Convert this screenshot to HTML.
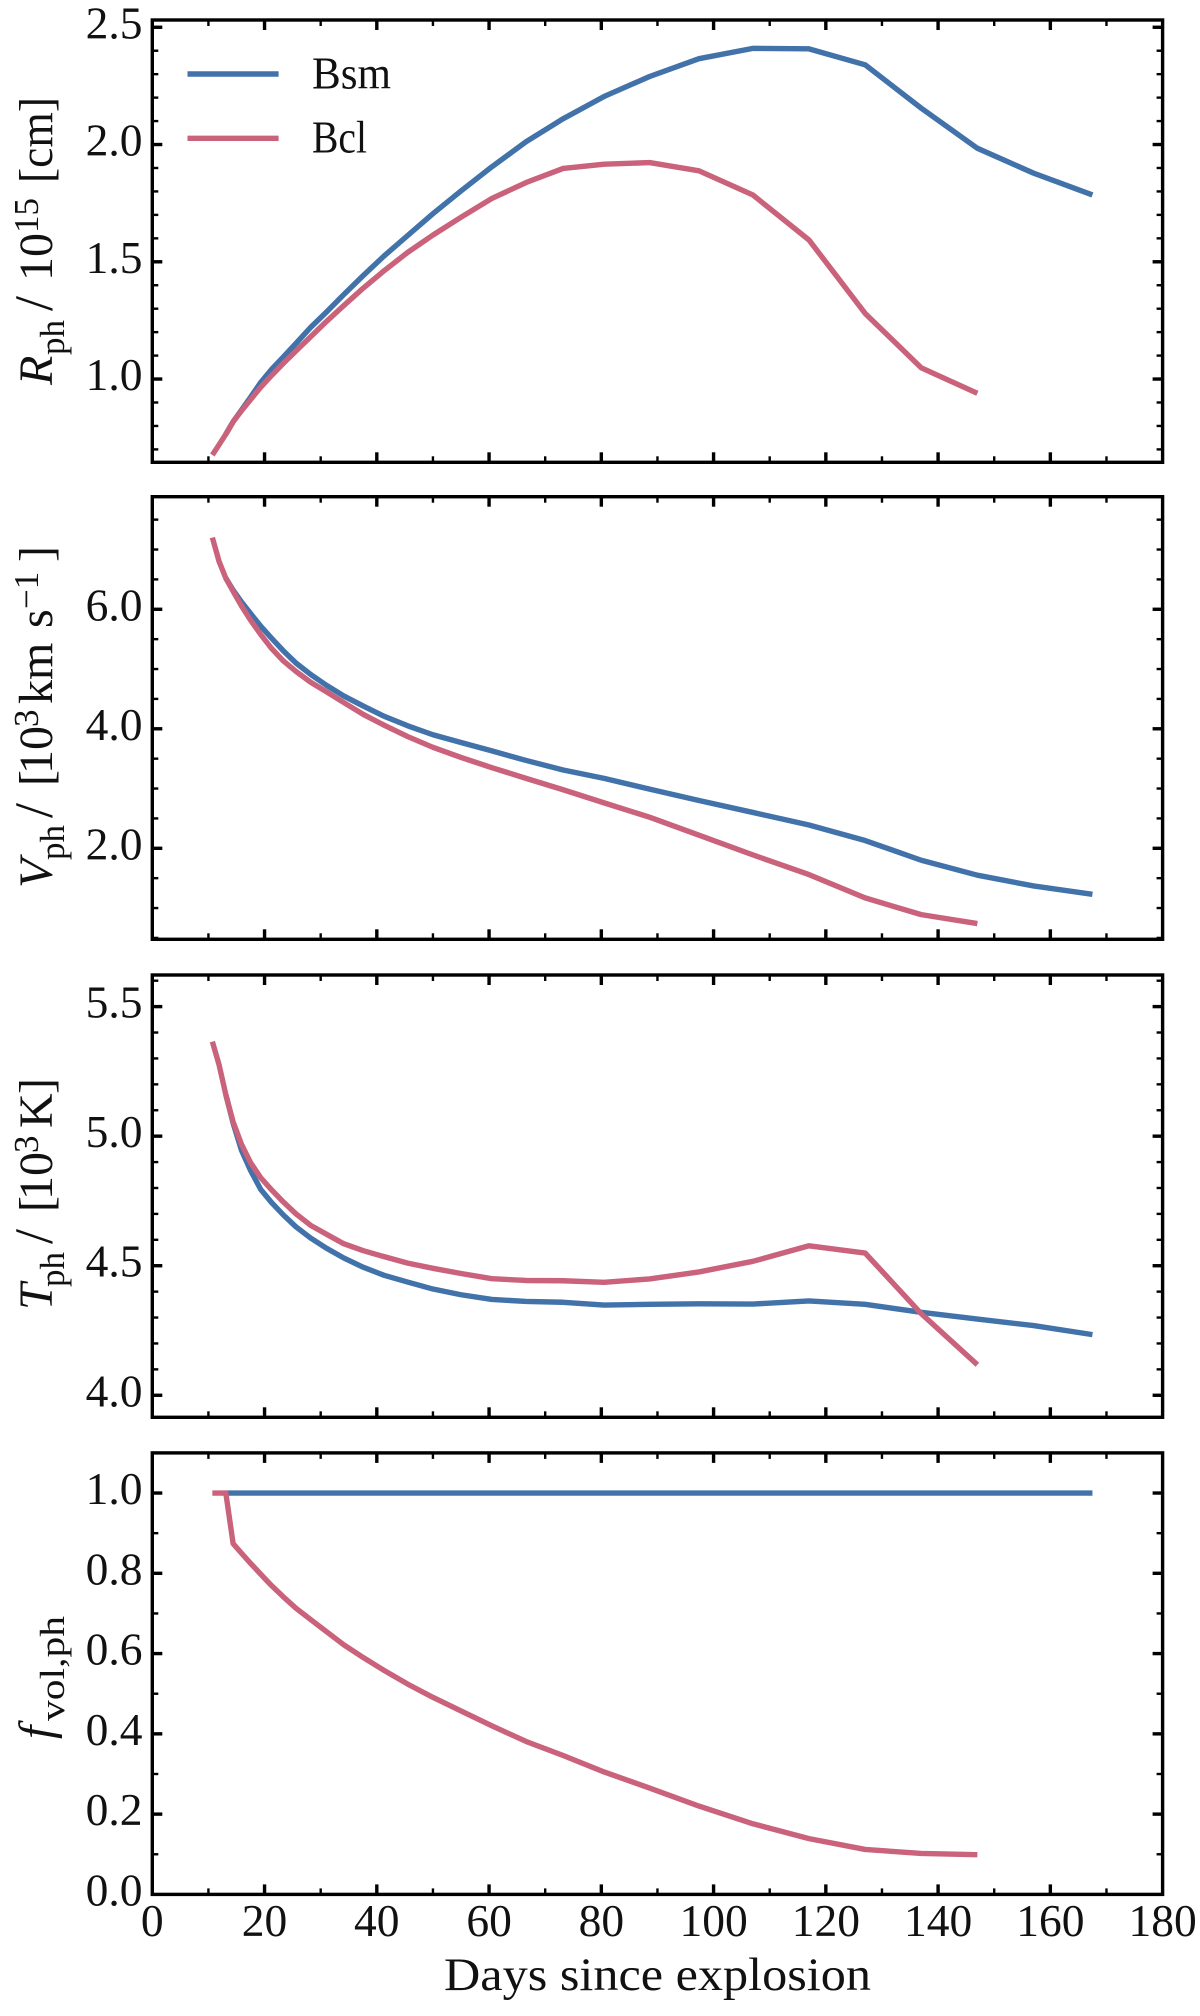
<!DOCTYPE html>
<html>
<head>
<meta charset="utf-8">
<title>Photospheric properties</title>
<style>
html,body{margin:0;padding:0;background:#fff;}
svg{display:block;}
text{font-family:"Liberation Serif",serif;fill:#111;}
</style>
</head>
<body>
<svg id="chart" xmlns="http://www.w3.org/2000/svg" width="1200" height="2016" viewBox="0 0 1200 2016">
  <rect x="0" y="0" width="1200" height="2016" fill="#fff"/>

  <g transform="translate(52,385) rotate(-90)">
    <text font-size="48"><tspan x="0" y="0" font-style="italic">R</tspan><tspan x="30" y="12" font-size="35">ph</tspan><tspan x="74" y="0" font-size="54">/</tspan><tspan x="104" y="0">10</tspan><tspan x="152" y="-14" font-size="35">15</tspan><tspan x="202" y="0" textLength="86" lengthAdjust="spacingAndGlyphs">[cm]</tspan></text>
  </g>
  <g transform="translate(52,888) rotate(-90)">
    <text font-size="48"><tspan x="0" y="0" font-style="italic">V</tspan><tspan x="28" y="12" font-size="35">ph</tspan><tspan x="70" y="0" font-size="54">/</tspan><tspan x="102" y="0">[</tspan><tspan x="114" y="0">10</tspan><tspan x="161" y="-14" font-size="35">3</tspan><tspan x="184" y="0">km</tspan><tspan x="260" y="0">s</tspan><tspan x="279" y="-14" font-size="35">−1</tspan><tspan x="326" y="0">]</tspan></text>
  </g>
  <g transform="translate(52,1310) rotate(-90)">
    <text font-size="48"><tspan x="0" y="0" font-style="italic">T</tspan><tspan x="23" y="12" font-size="35">ph</tspan><tspan x="66" y="0" font-size="54">/</tspan><tspan x="98" y="0">[</tspan><tspan x="110" y="0">10</tspan><tspan x="157" y="-14" font-size="35">3</tspan><tspan x="182" y="0">K</tspan><tspan x="216" y="0">]</tspan></text>
  </g>
  <g transform="translate(52,1739) rotate(-90)">
    <text font-size="48"><tspan x="0" y="0" font-style="italic">f</tspan><tspan x="18" y="12" font-size="35" textLength="105" lengthAdjust="spacingAndGlyphs">vol,ph</tspan></text>
  </g>

  <text x="444" y="1990" font-size="47" textLength="427" lengthAdjust="spacingAndGlyphs">Days since explosion</text>

  <g id="plots"></g>

  <g>
    <line x1="187.5" x2="278.6" y1="74" y2="74" stroke="#4172a9" stroke-width="5.4"/>
    <text x="312" y="88.5" font-size="45" textLength="79" lengthAdjust="spacingAndGlyphs">Bsm</text>
    <line x1="187.5" x2="278.6" y1="138.3" y2="138.3" stroke="#c9627a" stroke-width="5.4"/>
    <text x="312" y="152.7" font-size="45" textLength="55" lengthAdjust="spacingAndGlyphs">Bcl</text>
  </g>
</svg>

<script>
// ---- data ----
const bclDays = [10.7,11.9,13.1,14.4,15.9,17.5,19.3,21.2,23.3,25.6,28.2,31,34.1,37.6,41.3,45.5,50,55,60.5,66.6,73.2,80.5,88.6,97.4,107,117,127,137,147];
const bsmDays = [13.1,14.4,15.9,17.5,19.3,21.2,23.3,25.6,28.2,31,34.1,37.6,41.3,45.5,50,55,60.5,66.6,73.2,80.5,88.6,97.4,107,117,127,137,147,157,167.5];

const radiusBcl = [0.676,0.72,0.765,0.818,0.865,0.912,0.965,1.014,1.066,1.12,1.18,1.245,1.313,1.388,1.462,1.54,1.614,1.69,1.77,1.838,1.898,1.916,1.923,1.888,1.785,1.593,1.28,1.048,0.939];
const radiusBsm = [0.765,0.818,0.868,0.922,0.985,1.04,1.093,1.152,1.22,1.285,1.36,1.442,1.525,1.612,1.705,1.802,1.905,2.012,2.11,2.205,2.29,2.366,2.41,2.408,2.34,2.155,1.984,1.878,1.785];

const velocityBcl = [7.2,6.8,6.52,6.3,6.055,5.82,5.58,5.35,5.14,4.96,4.78,4.62,4.44,4.24,4.06,3.87,3.69,3.52,3.35,3.17,2.98,2.76,2.52,2.22,1.89,1.56,1.17,0.89,0.74];
const velocityBsm = [6.52,6.32,6.12,5.93,5.72,5.52,5.31,5.1,4.91,4.73,4.55,4.38,4.21,4.05,3.9,3.77,3.63,3.47,3.31,3.17,2.99,2.8,2.6,2.39,2.13,1.8,1.55,1.37,1.23];

const temperatureBcl = [5.365,5.275,5.16,5.055,4.968,4.898,4.84,4.794,4.747,4.7,4.656,4.622,4.585,4.558,4.535,4.51,4.49,4.47,4.45,4.443,4.442,4.436,4.449,4.476,4.517,4.577,4.549,4.315,4.118];
const temperatureBsm = [5.16,5.05,4.945,4.868,4.795,4.745,4.697,4.65,4.607,4.568,4.53,4.494,4.463,4.437,4.41,4.388,4.37,4.362,4.359,4.348,4.351,4.353,4.352,4.364,4.351,4.32,4.294,4.269,4.234];

const fillingBcl = [1,1,1,0.874,0.85,0.825,0.798,0.77,0.742,0.713,0.685,0.655,0.622,0.59,0.558,0.524,0.491,0.457,0.42,0.381,0.346,0.305,0.265,0.22,0.176,0.139,0.112,0.102,0.099];
const fillingBsm = [1,1,1,1,1,1,1,1,1,1,1,1,1,1,1,1,1,1,1,1,1,1,1,1,1,1,1,1,1];

const xTickLabels = ["0","20","40","60","80","100","120","140","160","180"];
const radiusTickLabels = ["1.0","1.5","2.0","2.5"];
const velocityTickLabels = ["2.0","4.0","6.0"];
const temperatureTickLabels = ["4.0","4.5","5.0","5.5"];
const fillingTickLabels = ["0.0","0.2","0.4","0.6","0.8","1.0"];

// ---- layout ----
const NS = 'http://www.w3.org/2000/svg';
const plots = document.getElementById('plots');
const BLUE = '#4172a9';
const RED = '#c9627a';
const LEFT = 152.3, RIGHT = 1162.6;
const xLo = 0, xHi = 180;
function xScale(v){ return LEFT + (v - xLo) / (xHi - xLo) * (RIGHT - LEFT); }
function makeYScale(lo, hi, bottom, top){
  return function(v){ return bottom - (v - lo) / (hi - lo) * (bottom - top); };
}
function svgEl(tag, attrs){
  const el = document.createElementNS(NS, tag);
  for (const k in attrs) el.setAttribute(k, attrs[k]);
  return el;
}
function tickLine(parent, x1, y1, x2, y2, major){
  const l = svgEl('line', {x1:x1, y1:y1, x2:x2, y2:y2, stroke:'#000', 'stroke-width': major ? 3.4 : 2.4});
  
  
  parent.appendChild(l);
}
function drawLine(parent, xs, ys, yScale, color, name){
  const pts = xs.map(function(d, i){ return xScale(d).toFixed(2) + ',' + yScale(ys[i]).toFixed(2); }).join(' ');
  const p = svgEl('polyline', {points:pts, fill:'none', stroke:color, 'stroke-width':5.4, 'stroke-linejoin':'round', 'stroke-linecap':'butt'});
  
  
  parent.appendChild(p);
}
function drawPanel(cfg){
  const g = svgEl('g', {});
  
  
  plots.appendChild(g);
  const y = makeYScale(cfg.lo, cfg.hi, cfg.bottom, cfg.top);

  drawLine(g, bsmDays, cfg.bsm, y, BLUE, cfg.name + '-line-bsm');
  drawLine(g, bclDays, cfg.bcl, y, RED, cfg.name + '-line-bcl');

  // x ticks
  const MAJ = 10, MIN = 6;
  for (let d = 0; d <= xHi; d += 10){
    const major = d % 20 === 0;
    const len = major ? MAJ : MIN;
    const px = xScale(d);
    if (d > xLo && d < xHi){
      tickLine(g, px, cfg.bottom, px, cfg.bottom - len, major);
      tickLine(g, px, cfg.top, px, cfg.top + len, major);
    }
  }
  // y ticks
  const first = Math.ceil(cfg.lo / cfg.minorStep - 1e-6);
  const last = Math.floor(cfg.hi / cfg.minorStep + 1e-6);
  const majors = cfg.ticks.map(Number);
  for (let k = first; k <= last; k++){
    const v = k * cfg.minorStep;
    const major = majors.some(function(m){ return Math.abs(m - v) < 1e-6; });
    if (v <= cfg.lo + 1e-6) continue;
    const len = major ? MAJ : MIN;
    const py = y(v);
    tickLine(g, LEFT, py, LEFT + len, py, major);
    tickLine(g, RIGHT, py, RIGHT - len, py, major);
  }
  // y tick labels
  cfg.ticks.forEach(function(lbl){
    const t = svgEl('text', {x:142.5, y:y(Number(lbl)) + 11, 'font-size':45.5, 'text-anchor':'end'});
    t.textContent = lbl;
    
    
    g.appendChild(t);
  });
  // frame
  const r = svgEl('rect', {x:LEFT, y:cfg.top, width:RIGHT - LEFT, height:cfg.bottom - cfg.top, fill:'none', stroke:'#000', 'stroke-width':3.4});
  
  
  g.appendChild(r);
}

drawPanel({name:'radius', lo:0.645, hi:2.531, top:20, bottom:462.3, minorStep:0.1, ticks:radiusTickLabels, bsm:radiusBsm, bcl:radiusBcl});
drawPanel({name:'velocity', lo:0.477, hi:7.884, top:496.7, bottom:939.3, minorStep:0.5, ticks:velocityTickLabels, bsm:velocityBsm, bcl:velocityBcl});
drawPanel({name:'temperature', lo:3.915, hi:5.622, top:975, bottom:1417.3, minorStep:0.1, ticks:temperatureTickLabels, bsm:temperatureBsm, bcl:temperatureBcl});
drawPanel({name:'filling', lo:0, hi:1.1, top:1452.9, bottom:1894.4, minorStep:0.1, ticks:fillingTickLabels, bsm:fillingBsm, bcl:fillingBcl});

xTickLabels.forEach(function(lbl){
  const t = svgEl('text', {x:xScale(Number(lbl)), y:1936, 'font-size':45.5, 'text-anchor':'middle'});
  t.textContent = lbl;
  
  
  plots.appendChild(t);
});
</script>
</body>
</html>
